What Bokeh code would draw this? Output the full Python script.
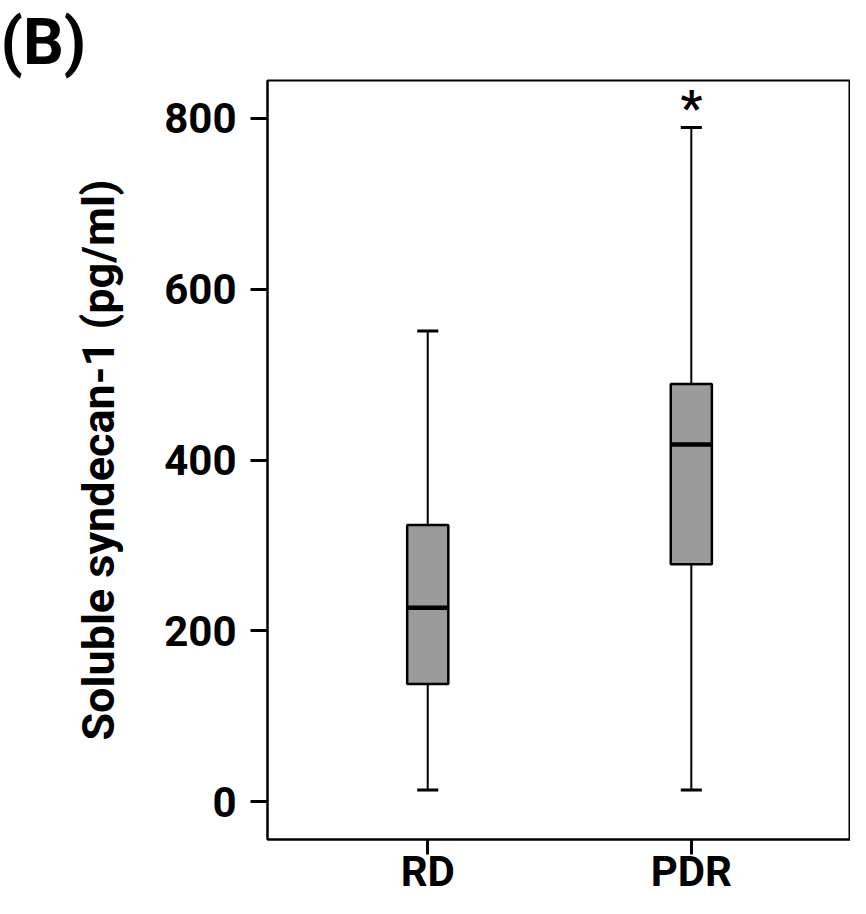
from bokeh.plotting import figure
from bokeh.models import Range1d, FixedTicker
from bokeh.core.properties import value
from bokeh.embed import file_html
from bokeh.resources import INLINE

# ---- data ----
categories = ["RD", "PDR"]
whisker_low = [14, 14]
q1 = [138, 278]
median = [227, 418]
q3 = [324, 489]
whisker_high = [551, 789]
significance = ["", "*"]
y_ticks = [0, 200, 400, 600, 800]

xs = [i + 1 for i in range(len(categories))]
box_w = 0.156
cap_w = 0.08

FONT = "Roboto"

p = figure(width=850, height=898,
           x_range=Range1d(0.392, 2.604), y_range=Range1d(-44, 844),
           output_backend="svg", toolbar_location=None,
           min_border_left=267, min_border_right=0, min_border_top=80,
           min_border_bottom=0)

p.title.text = "(B)"
p.title.text_font = FONT
p.title.text_font_size = "64px"
p.title.text_font_style = "bold"
p.title.text_color = "black"
p.title.align = "left"
p.title.offset = -267
p.title.standoff = 2

p.xgrid.visible = False
p.ygrid.visible = False
p.background_fill_color = "white"
p.outline_line_color = "black"
p.outline_line_width = 2
p.outline_line_alpha = 1

# whiskers
p.segment(x0=xs, x1=xs, y0=q3, y1=whisker_high, line_color="black", line_width=2)
p.segment(x0=xs, x1=xs, y0=whisker_low, y1=q1, line_color="black", line_width=2)
# caps
p.segment(x0=[x - cap_w / 2 for x in xs], x1=[x + cap_w / 2 for x in xs],
          y0=whisker_high, y1=whisker_high, line_color="black", line_width=3)
p.segment(x0=[x - cap_w / 2 for x in xs], x1=[x + cap_w / 2 for x in xs],
          y0=whisker_low, y1=whisker_low, line_color="black", line_width=3)
# boxes
p.vbar(x=xs, width=box_w, bottom=q1, top=q3, fill_color="#9b9b9b",
       line_color="black", line_width=2.5)
# medians
p.segment(x0=[x - box_w / 2 for x in xs], x1=[x + box_w / 2 for x in xs],
          y0=median, y1=median, line_color="black", line_width=4.5)
# significance marker
p.text(x=xs, y=whisker_high, text=significance, text_font=value(FONT),
       text_font_size="48px", text_font_style="bold", text_align="center",
       text_baseline="bottom", y_offset=8, text_color="black")

# axes
p.xaxis.ticker = FixedTicker(ticks=xs)
p.xaxis.major_label_overrides = {x: c for x, c in zip(xs, categories)}
p.yaxis.ticker = FixedTicker(ticks=y_ticks)
p.yaxis.axis_label = "Soluble syndecan-1 (pg/ml)"

for ax in (p.xaxis[0], p.yaxis[0]):
    ax.axis_line_color = "black"
    ax.axis_line_width = 2
    ax.major_tick_line_color = "black"
    ax.major_tick_line_width = 3
    ax.major_tick_in = 0
    ax.minor_tick_line_color = None
    ax.major_label_text_font = FONT
    ax.major_label_text_font_style = "bold"
    ax.major_label_text_font_size = "42px"
    ax.major_label_text_color = "black"

p.yaxis.major_tick_out = 17
p.yaxis.major_label_standoff = 14
p.xaxis.major_tick_out = 15
p.xaxis.major_label_standoff = -8

p.yaxis.axis_label_text_font = FONT
p.yaxis.axis_label_text_font_style = "bold"
p.yaxis.axis_label_text_font_size = "45px"
p.yaxis.axis_label_text_color = "black"
p.yaxis.axis_label_standoff = 36

open("out.html", "w").write(file_html(p, INLINE))
